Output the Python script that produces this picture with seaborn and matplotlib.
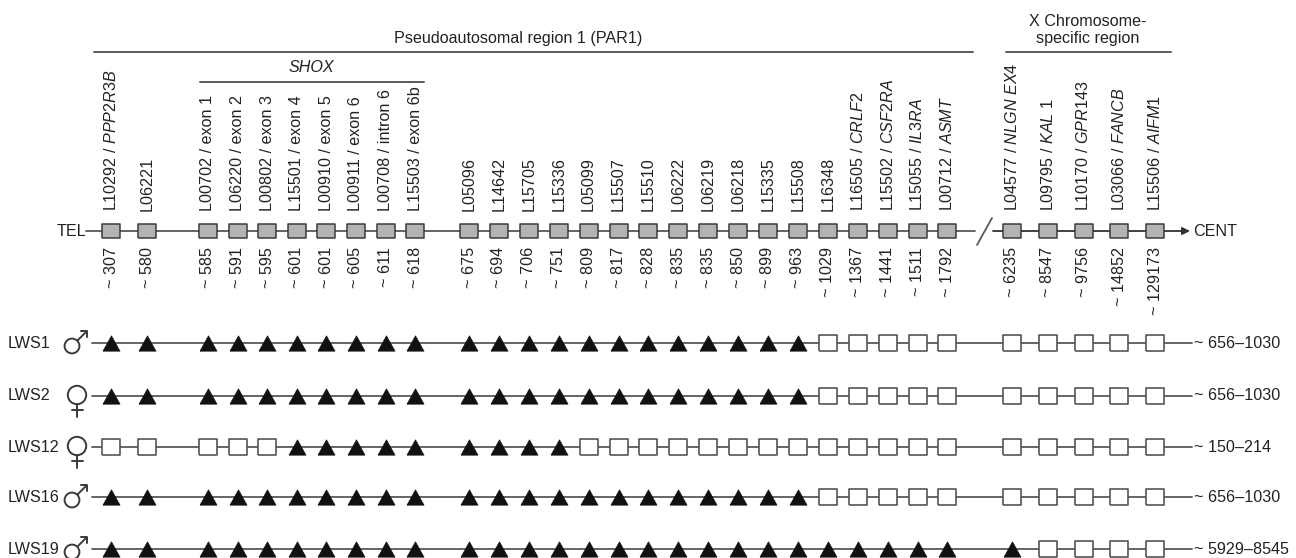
import numpy as np
import pandas as pd
import matplotlib
matplotlib.use("Agg")
import matplotlib.pyplot as plt
import seaborn as sb

sb.set_style("white")
plt.rcParams['font.family'] = ['Liberation Sans', 'DejaVu Sans']
plt.rcParams['mathtext.fontset'] = 'custom'
plt.rcParams['mathtext.rm'] = 'Liberation Sans'
plt.rcParams['mathtext.it'] = 'Liberation Sans:italic'

# MLPA probes, tel -> cent
probes = ["L10292", "L06221",
          "L00702", "L06220", "L00802", "L15501", "L00910", "L00911", "L00708", "L15503",
          "L05096", "L14642", "L15705", "L15336", "L05099", "L15507", "L15510", "L06222",
          "L06219", "L06218", "L15335", "L15508", "L16348", "L16505", "L15502", "L15055",
          "L00712",
          "L04577", "L09795", "L10170", "L03066", "L15506"]
genes = ["PPP2R3B", "",
         "", "", "", "", "", "", "", "",
         "", "", "", "", "", "", "", "",
         "", "", "", "", "", "CRLF2", "CSF2RA", "IL3RA",
         "ASMT",
         "NLGN EX4", "KAL 1", "GPR143", "FANCB", "AIFM1"]
shox_parts = ["exon 1", "exon 2", "exon 3", "exon 4", "exon 5", "exon 6", "intron 6", "exon 6b"]
positions_kb = [307, 580, 585, 591, 595, 601, 601, 605, 611, 618, 675, 694, 706, 751,
                809, 817, 828, 835, 835, 850, 899, 963, 1029, 1367, 1441, 1511, 1792,
                6235, 8547, 9756, 14852, 129173]

# patients: T = deleted (filled triangle), S = retained (open square)
patients = ["LWS1", "LWS2", "LWS12", "LWS16", "LWS19"]
sex = ["m", "f", "f", "m", "m"]
deletion_size = ["~ 656\u20131030", "~ 656\u20131030", "~ 150\u2013214", "~ 656\u20131030", "~ 5929\u20138545"]
states = ["TTTTTTTTTTTTTTTTTTTTTTSSSSSSSSSS",
          "TTTTTTTTTTTTTTTTTTTTTTSSSSSSSSSS",
          "SSSSSTTTTTTTTTSSSSSSSSSSSSSSSSSS",
          "TTTTTTTTTTTTTTTTTTTTTTSSSSSSSSSS",
          "TTTTTTTTTTTTTTTTTTTTTTTTTTTTSSSS"]

# ---- layout (pixel coords) ----
groups = [(0, 2, 111, 36.0), (2, 10, 208, 29.6), (10, 27, 469, 29.9), (27, 32, 1012, 35.75)]
xs = np.zeros(len(probes))
for a, b, start, step in groups:
    xs[a:b] = start + step * np.arange(b - a)
y_head = 231
row_y = [343, 396, 447, 497, 549]
lc = "#595959"
tc = "#222222"
sc = "#3a3a3a"
fs = 11.6

fig = plt.figure(figsize=(12.96, 5.58), dpi=100)
ax = fig.add_axes([0, 0, 1, 1])
ax.set_xlim(0, 1296)
ax.set_ylim(558, 0)
ax.axis("off")


def male(ax, cx, cy):
    r = 7.4
    ax.add_patch(plt.Circle((cx, cy), r, fill=False, ec=sc, lw=1.4))
    ax.plot([cx + 5.2, cx + 15], [cy - 5.2, cy - 15], color=sc, lw=1.4, solid_capstyle="butt")
    ax.plot([cx + 9, cx + 15, cx + 15], [cy - 15, cy - 15, cy - 9], color=sc, lw=1.4)


def female(ax, cx, cy):
    r = 9.2
    ax.add_patch(plt.Circle((cx, cy), r, fill=False, ec=sc, lw=1.4))
    ax.plot([cx, cx], [cy + r, cy + 22], color=sc, lw=1.4)
    ax.plot([cx - 5.5, cx + 5.5], [cy + 15, cy + 15], color=sc, lw=1.4)


# header chromosome line with break
ax.plot([86, 975], [y_head, y_head], color=lc, lw=1.3, zorder=1)
ax.plot([977, 992], [245, 218], color=lc, lw=1.3, zorder=1)
ax.annotate("", xy=(1190, y_head), xytext=(993, y_head),
            arrowprops=dict(arrowstyle="-|>", color="#333333", lw=1.3, mutation_scale=11,
                            shrinkA=0, shrinkB=0), zorder=1)
ax.text(86, y_head, "TEL", ha="right", va="center", fontsize=fs, color=tc)
ax.text(1193, y_head, "CENT", ha="left", va="center", fontsize=fs, color=tc)

rect = [(-1, -0.8), (1, -0.8), (1, 0.8), (-1, 0.8), (-1, -0.8)]
sb.scatterplot(x=xs, y=[y_head] * len(xs), marker=rect, s=175, color="#b3b3b3",
               edgecolor="#3c3c3c", linewidth=1.1, zorder=3, ax=ax, legend=False)

# probe labels and positions
for i, (p, g) in enumerate(zip(probes, genes)):
    if g:
        lab = p + " / $\\mathit{" + g.replace(" ", "\\ ") + "}$"
    elif 2 <= i < 10:
        lab = p + " / " + shox_parts[i - 2]
    else:
        lab = p
    ax.text(xs[i], 211, lab, rotation=90, ha="center", va="bottom", fontsize=fs, color=tc)
    ax.text(xs[i], 247, "~ " + str(positions_kb[i]), rotation=90, ha="center", va="top",
            fontsize=fs, color=tc)

# region brackets
ax.plot([94, 973], [52, 52], color=lc, lw=1.4)
ax.plot([1006, 1171], [52, 52], color=lc, lw=1.4)
ax.plot([200, 424], [82, 82], color=lc, lw=1.4)
ax.text(518, 38, "Pseudoautosomal region 1 (PAR1)", ha="center", va="center", fontsize=fs, color=tc)
ax.text(1088, 30, "X Chromosome-\nspecific region", ha="center", va="center", fontsize=fs,
        color=tc, linespacing=1.15)
ax.text(311, 67, "SHOX", ha="center", va="center", fontsize=fs, style="italic", color=tc)

# patient rows
rows = []
for pi, name in enumerate(patients):
    for mi in range(len(probes)):
        rows.append({"patient": name, "x": xs[mi], "y": row_y[pi], "state": states[pi][mi]})
df = pd.DataFrame(rows)

for pi, name in enumerate(patients):
    y = row_y[pi]
    ax.plot([92, 1192], [y, y], color=lc, lw=1.3, zorder=1)
    ax.text(8, y, name, ha="left", va="center", fontsize=fs, color=tc)
    if sex[pi] == "m":
        male(ax, 72, y + 3)
    else:
        female(ax, 77, y - 1)
    ax.text(1194, y, deletion_size[pi], ha="left", va="center", fontsize=fs, color=tc)

tri = [(-1, -0.9), (1, -0.9), (0, 0.9), (-1, -0.9)]
sq = [(-1, -0.88), (1, -0.88), (1, 0.88), (-1, 0.88), (-1, -0.88)]
dT = df[df.state == "T"]
dS = df[df.state == "S"]
sb.scatterplot(data=dT, x="x", y="y", marker=tri, s=150, color="#111111",
               edgecolor="#111111", linewidth=0.5, zorder=3, ax=ax, legend=False)
sb.scatterplot(data=dS, x="x", y="y", marker=sq, s=175, color="white",
               edgecolor="#555555", linewidth=1.2, zorder=3, ax=ax, legend=False)

ax.set_xlim(0, 1296)
ax.set_ylim(558, 0)
fig.savefig("out.png", dpi=100)
